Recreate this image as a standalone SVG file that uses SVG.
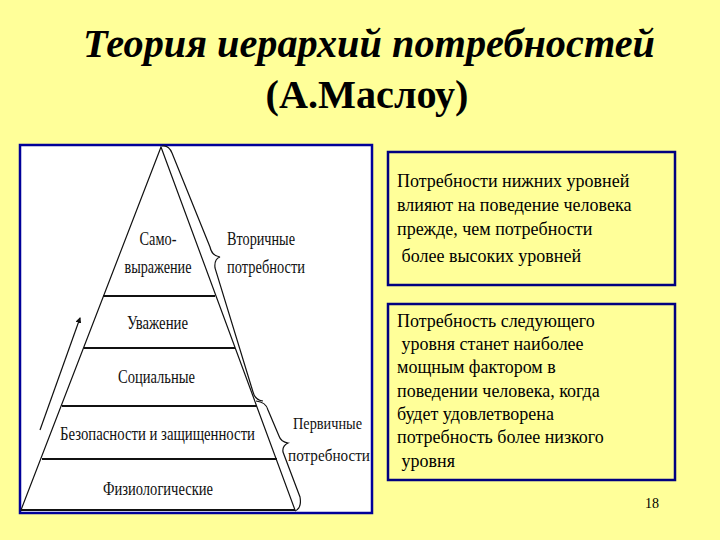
<svg xmlns="http://www.w3.org/2000/svg" width="720" height="540" viewBox="0 0 720 540">
<defs>
<marker id="ah" markerWidth="6" markerHeight="6" refX="5" refY="3" orient="auto" markerUnits="userSpaceOnUse">
<path d="M0,0 L6,3 L0,6 Z" fill="#111"/>
</marker>
</defs>
<rect width="720" height="540" fill="#FFFF99"/>
<g id="title">
<text font-family="Times New Roman, serif" font-weight="bold" fill="#000" x="369" y="57" font-size="40" font-style="italic" text-anchor="middle" textLength="572" lengthAdjust="spacingAndGlyphs">Теория иерархий потребностей</text>
<text font-family="Times New Roman, serif" font-weight="bold" fill="#000" x="367" y="108" font-size="40" text-anchor="middle" textLength="203" lengthAdjust="spacingAndGlyphs">(А.Маслоу)</text>
</g>
<g id="pyramid-panel">
<rect x="20" y="145" width="352" height="368" fill="#fff" stroke="#000099" stroke-width="2.5"/>
</g>
<g id="connectors" fill="none" stroke="#111">
<path stroke-width="1.2" d="M161,147 L21,510 L295,510 Z"/>
<g stroke-width="2">
<line x1="103" y1="296" x2="215" y2="296"/>
<line x1="84" y1="348" x2="235" y2="348"/>
<line x1="62" y1="406" x2="257" y2="406"/>
<line x1="42" y1="459" x2="277" y2="459"/>
<line x1="21" y1="510" x2="295" y2="510"/>
</g>
<line stroke-width="1.2" x1="40" y1="430" x2="80" y2="318" marker-end="url(#ah)"/>
<path stroke-width="1.2" d="M162,146 C167,145 170,148 172,153 L210,247 Q212,256 220,257 Q214,259 215,268 L253,392 Q255,400 263,401"/>
<path stroke-width="1.2" d="M256,401 Q266,402 268,410 L279,436 Q281,442 288,443 Q282,446 283,452 L300,497 Q302,508 295,511"/>
</g>
<g id="level-self">
<text font-family="Times New Roman, serif" font-size="19" fill="#111" x="158" y="245" text-anchor="middle" textLength="37" lengthAdjust="spacingAndGlyphs">Само-</text>
<text font-family="Times New Roman, serif" font-size="19" fill="#111" x="158" y="273" text-anchor="middle" textLength="67" lengthAdjust="spacingAndGlyphs">выражение</text>
</g>
<g id="secondary">
<text font-family="Times New Roman, serif" font-size="19" fill="#111" x="227" y="245" textLength="68" lengthAdjust="spacingAndGlyphs">Вторичные</text>
<text font-family="Times New Roman, serif" font-size="19" fill="#111" x="227" y="273" textLength="78" lengthAdjust="spacingAndGlyphs">потребности</text>
</g>
<g id="level-esteem">
<text font-family="Times New Roman, serif" font-size="19" fill="#111" x="127" y="329" textLength="61" lengthAdjust="spacingAndGlyphs">Уважение</text>
</g>
<g id="level-social">
<text font-family="Times New Roman, serif" font-size="19" fill="#111" x="118" y="383" textLength="77" lengthAdjust="spacingAndGlyphs">Социальные</text>
</g>
<g id="level-safety">
<text font-family="Times New Roman, serif" font-size="19" fill="#111" x="60" y="440" textLength="195" lengthAdjust="spacingAndGlyphs">Безопасности и защищенности</text>
</g>
<g id="level-phys">
<text font-family="Times New Roman, serif" font-size="19" fill="#111" x="103" y="495" textLength="110" lengthAdjust="spacingAndGlyphs">Физиологические</text>
</g>
<g id="primary">
<text font-family="Times New Roman, serif" font-size="17" fill="#111" x="293" y="429" textLength="69" lengthAdjust="spacingAndGlyphs">Первичные</text>
<text font-family="Times New Roman, serif" font-size="17" fill="#111" x="288" y="461" textLength="82" lengthAdjust="spacingAndGlyphs">потребности</text>
</g>
<g id="box1">
<rect x="388" y="152" width="287" height="133" fill="#FFFF99" stroke="#000080" stroke-width="2.5"/>
<text font-family="Times New Roman, serif" font-size="18" x="397" y="187">Потребности нижних уровней</text>
<text font-family="Times New Roman, serif" font-size="18" x="397" y="211">влияют на поведение человека</text>
<text font-family="Times New Roman, serif" font-size="18" x="397" y="235">прежде, чем потребности</text>
<text font-family="Times New Roman, serif" font-size="18" x="397" y="262" xml:space="preserve"> более высоких уровней</text>
</g>
<g id="box2">
<rect x="388" y="304" width="287" height="176" fill="#FFFF99" stroke="#000080" stroke-width="2.5"/>
<text font-family="Times New Roman, serif" font-size="18" x="397" y="327">Потребность следующего</text>
<text font-family="Times New Roman, serif" font-size="18" x="397" y="350" xml:space="preserve"> уровня станет наиболее</text>
<text font-family="Times New Roman, serif" font-size="18" x="397" y="373">мощным фактором в</text>
<text font-family="Times New Roman, serif" font-size="18" x="397" y="397">поведении человека, когда</text>
<text font-family="Times New Roman, serif" font-size="18" x="397" y="420">будет удовлетворена</text>
<text font-family="Times New Roman, serif" font-size="18" x="397" y="443">потребность более низкого</text>
<text font-family="Times New Roman, serif" font-size="18" x="397" y="467" xml:space="preserve"> уровня</text>
</g>
<g id="page">
<text font-family="Times New Roman, serif" font-size="14" x="645" y="508">18</text>
</g>
</svg>
